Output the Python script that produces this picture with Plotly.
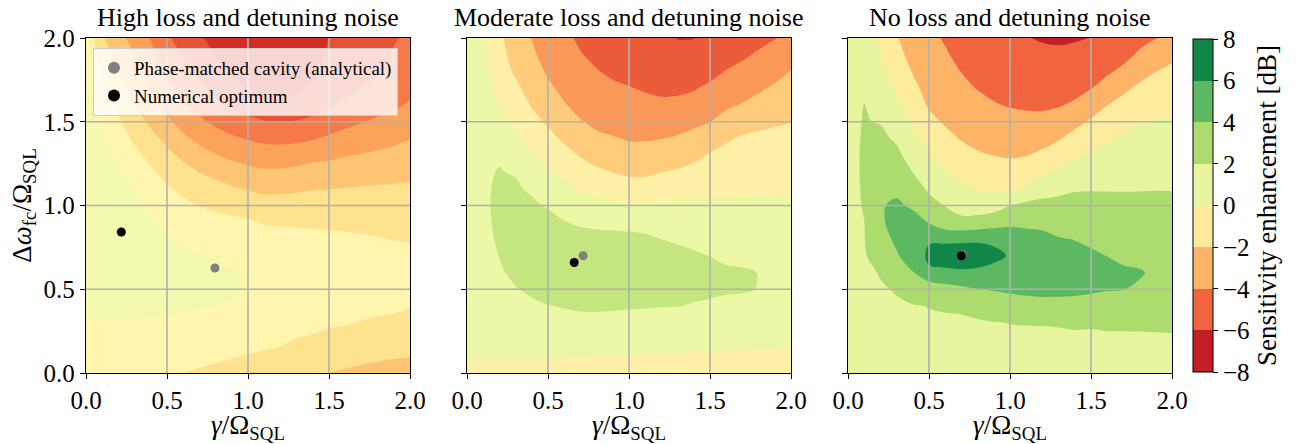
import plotly.graph_objects as go

# ---------------- data ----------------
GAMMA = [0.0, 0.1, 0.2, 0.3, 0.4, 0.5, 0.6, 0.7, 0.8, 0.9, 1.0,
         1.1, 1.2, 1.3, 1.4, 1.5, 1.6, 1.7, 1.8, 1.9, 2.0]
DETUNING = [0.0, 0.1, 0.2, 0.3, 0.4, 0.5, 0.6, 0.7, 0.8, 0.9, 1.0,
            1.1, 1.2, 1.3, 1.4, 1.5, 1.6, 1.7, 1.8, 1.9, 2.0]

# sensitivity enhancement [dB]; one list per gamma value (column), bottom -> top in detuning
HIGH_LOSS_COLS = [
    [-0.55, -0.4, -0.25, -0.05, 0.12, 0.25, 0.35, 0.42, 0.46, 0.48, 0.48, 0.46, 0.43, 0.39, 0.34, 0.28, 0.21, 0.14, 0.06, -0.02, -0.15],
    [-0.55, -0.4, -0.25, -0.05, 0.15, 0.3, 0.42, 0.5, 0.53, 0.53, 0.5, 0.44, 0.35, 0.24, 0.1, -0.05, -0.35, -0.8, -1.2, -1.55, -1.85],
    [-0.55, -0.4, -0.25, -0.05, 0.18, 0.35, 0.48, 0.56, 0.58, 0.55, 0.47, 0.34, 0.15, -0.1, -0.45, -0.9, -1.25, -1.6, -2.0, -2.35, -2.7],
    [-0.55, -0.4, -0.25, -0.06, 0.18, 0.36, 0.48, 0.55, 0.55, 0.45, 0.25, 0.02, -0.3, -0.7, -1.2, -1.55, -2.0, -2.35, -2.65, -3.0, -3.35],
    [-0.6, -0.42, -0.26, -0.08, 0.17, 0.34, 0.44, 0.46, 0.38, 0.15, -0.25, -0.55, -0.85, -1.3, -1.7, -2.2, -2.7, -3.1, -3.45, -3.75, -4.05],
    [-0.7, -0.5, -0.3, -0.08, 0.14, 0.3, 0.36, 0.33, 0.12, -0.2, -0.55, -0.9, -1.3, -1.75, -2.25, -2.8, -3.3, -3.75, -4.15, -4.5, -4.85],
    [-1.02, -0.72, -0.45, -0.15, 0.1, 0.24, 0.27, 0.17, -0.1, -0.45, -0.8, -1.2, -1.65, -2.2, -2.8, -3.4, -3.9, -4.35, -4.75, -5.08, -5.4],
    [-1.1, -0.8, -0.5, -0.22, 0.04, 0.18, 0.2, 0.03, -0.3, -0.65, -1.02, -1.5, -2.02, -2.6, -3.25, -3.8, -4.3, -4.8, -5.2, -5.55, -5.85],
    [-1.2, -0.85, -0.55, -0.27, 0.01, 0.12, 0.13, -0.05, -0.4, -0.75, -1.15, -1.7, -2.25, -2.95, -3.55, -4.2, -4.75, -5.25, -5.65, -6.02, -6.35],
    [-1.3, -0.95, -0.62, -0.32, -0.07, 0.07, 0.04, -0.2, -0.5, -0.8, -1.3, -1.9, -2.55, -3.2, -3.85, -4.5, -5.2, -5.7, -6.1, -6.4, -6.7],
    [-1.35, -1.05, -0.7, -0.4, -0.15, -0.02, -0.06, -0.3, -0.6, -0.88, -1.5, -2.05, -2.75, -3.4, -4.05, -4.75, -5.45, -6.02, -6.35, -6.6, -6.85],
    [-1.4, -1.12, -0.8, -0.5, -0.28, -0.17, -0.2, -0.4, -0.7, -1.05, -1.6, -2.2, -2.85, -3.55, -4.2, -4.95, -5.7, -6.25, -6.55, -6.8, -6.95],
    [-1.45, -1.18, -0.88, -0.6, -0.38, -0.27, -0.28, -0.45, -0.75, -1.08, -1.55, -2.2, -2.85, -3.55, -4.25, -5.02, -5.75, -6.3, -6.6, -6.8, -6.95],
    [-1.5, -1.25, -1.02, -0.72, -0.5, -0.38, -0.37, -0.5, -0.78, -1.1, -1.5, -2.15, -2.75, -3.45, -4.2, -4.95, -5.65, -6.2, -6.5, -6.7, -6.85],
    [-1.55, -1.32, -1.08, -0.82, -0.6, -0.47, -0.45, -0.55, -0.8, -1.12, -1.5, -2.05, -2.6, -3.3, -4.07, -4.8, -5.35, -5.8, -6.15, -6.35, -6.5],
    [-2.02, -1.65, -1.25, -0.88, -0.66, -0.55, -0.52, -0.6, -0.83, -1.15, -1.52, -2.02, -2.55, -3.2, -3.85, -4.5, -5.15, -5.55, -5.75, -5.88, -5.97],
    [-2.1, -1.72, -1.32, -0.94, -0.72, -0.61, -0.58, -0.65, -0.85, -1.2, -1.55, -1.97, -2.45, -3.05, -3.65, -4.25, -4.85, -5.25, -5.45, -5.6, -5.7],
    [-2.2, -1.8, -1.4, -1.03, -0.78, -0.66, -0.62, -0.7, -0.9, -1.22, -1.55, -1.93, -2.4, -2.95, -3.5, -4.05, -4.55, -5.02, -5.22, -5.35, -5.45],
    [-2.3, -1.85, -1.45, -1.1, -0.83, -0.7, -0.66, -0.74, -0.95, -1.25, -1.55, -1.9, -2.35, -2.85, -3.35, -3.85, -4.35, -4.8, -5.07, -5.18, -5.25],
    [-2.4, -1.92, -1.5, -1.15, -0.88, -0.74, -0.7, -0.77, -1.02, -1.28, -1.55, -1.88, -2.28, -2.75, -3.2, -3.7, -4.15, -4.55, -4.8, -4.95, -5.05],
    [-2.5, -1.98, -1.55, -1.2, -0.97, -0.8, -0.75, -0.83, -1.05, -1.3, -1.55, -1.85, -2.2, -2.6, -3.02, -3.5, -3.9, -4.25, -4.55, -4.75, -4.9],
]

MODERATE_LOSS_COLS = [
    [-0.35, 0.18, 0.4, 0.6, 0.75, 0.88, 0.98, 1.05, 1.1, 1.13, 1.15, 1.15, 1.12, 1.05, 0.98, 0.9, 0.8, 0.7, 0.58, 0.45, 0.3],
    [-0.35, 0.15, 0.45, 0.68, 0.85, 1.0, 1.12, 1.22, 1.3, 1.35, 1.38, 1.38, 1.35, 1.28, 1.15, 1.0, 0.8, 0.6, 0.4, 0.18, -0.05],
    [-0.35, 0.12, 0.5, 0.78, 1.0, 1.2, 1.38, 1.52, 1.6, 1.64, 1.65, 1.62, 1.55, 1.4, 1.0, 0.5, -0.02, -0.45, -0.8, -1.0, -1.15],
    [-0.35, 0.09, 0.6, 0.95, 1.25, 1.45, 1.7, 1.85, 1.92, 1.93, 1.85, 1.68, 1.4, 0.85, 0.25, -0.35, -0.8, -1.2, -1.7, -2.1, -2.5],
    [-0.35, 0.07, 0.7, 1.05, 1.35, 1.65, 2.0, 2.15, 2.15, 2.0, 1.75, 1.3, 0.75, 0.12, -0.5, -1.05, -1.6, -2.1, -2.5, -2.8, -3.02],
    [-0.35, 0.05, 0.75, 1.15, 1.47, 1.85, 2.2, 2.35, 2.3, 2.0, 1.35, 0.75, 0.1, -0.5, -1.05, -1.7, -2.3, -2.75, -3.15, -3.45, -3.7],
    [-0.35, 0.035, 0.8, 1.2, 1.55, 2.0, 2.35, 2.4, 2.2, 1.55, 1.0, 0.35, -0.3, -1.0, -1.75, -2.4, -2.9, -3.35, -3.75, -4.05, -4.3],
    [-0.35, 0.02, 0.82, 1.25, 1.62, 2.05, 2.3, 2.3, 2.0, 1.3, 0.65, -0.1, -0.8, -1.6, -2.3, -2.9, -3.45, -3.85, -4.2, -4.45, -4.65],
    [-0.35, -0.01, 0.8, 1.25, 1.64, 2.05, 2.25, 2.2, 1.9, 1.2, 0.45, -0.4, -1.25, -2.05, -2.7, -3.3, -3.8, -4.2, -4.45, -4.7, -4.9],
    [-0.35, -0.03, 0.75, 1.22, 1.62, 2.0, 2.15, 2.1, 1.85, 1.15, 0.35, -0.6, -1.52, -2.3, -2.9, -3.45, -3.95, -4.35, -4.65, -4.9, -5.1],
    [-0.35, -0.06, 0.7, 1.2, 1.58, 1.95, 2.1, 2.05, 1.8, 1.1, 0.15, -0.85, -1.75, -2.5, -3.1, -3.65, -4.1, -4.45, -4.8, -5.05, -5.3],
    [-0.35, -0.09, 0.65, 1.15, 1.56, 1.9, 2.02, 1.95, 1.7, 1.05, 0.15, -0.85, -1.75, -2.5, -3.1, -3.7, -4.2, -4.6, -4.95, -5.2, -5.45],
    [-0.35, -0.11, 0.6, 1.1, 1.53, 1.82, 1.93, 1.82, 1.49, 0.95, 0.2, -0.7, -1.52, -2.25, -3.02, -3.65, -4.25, -4.75, -5.15, -5.45, -5.7],
    [-0.35, -0.14, 0.55, 1.05, 1.52, 1.78, 1.85, 1.72, 1.4, 0.9, 0.25, -0.55, -1.35, -2.1, -2.85, -3.55, -4.2, -4.75, -5.25, -5.7, -6.03],
    [-0.35, -0.17, 0.5, 1.0, 1.45, 1.68, 1.72, 1.6, 1.3, 0.85, 0.3, -0.4, -1.1, -1.8, -2.55, -3.3, -4.0, -4.6, -5.15, -5.65, -6.02],
    [-0.35, -0.18, 0.45, 0.95, 1.4, 1.62, 1.64, 1.49, 1.2, 0.8, 0.3, -0.3, -0.9, -1.4, -2.05, -3.02, -3.7, -4.25, -4.9, -5.4, -5.8],
    [-0.35, -0.2, 0.4, 0.9, 1.35, 1.58, 1.58, 1.4, 1.1, 0.75, 0.28, -0.25, -0.7, -1.15, -1.65, -2.4, -3.25, -3.95, -4.45, -5.0, -5.45],
    [-0.35, -0.22, 0.38, 0.85, 1.3, 1.56, 1.56, 1.36, 1.05, 0.7, 0.26, -0.2, -0.6, -0.95, -1.35, -2.0, -2.9, -3.55, -4.15, -4.7, -5.1],
    [-0.35, -0.25, 0.35, 0.8, 1.22, 1.48, 1.49, 1.3, 1.0, 0.66, 0.25, -0.2, -0.55, -0.9, -1.25, -1.8, -2.55, -3.2, -3.8, -4.35, -4.85],
    [-0.35, -0.28, 0.33, 0.75, 1.15, 1.35, 1.38, 1.25, 0.97, 0.63, 0.25, -0.18, -0.52, -0.85, -1.2, -1.65, -2.2, -2.8, -3.45, -4.0, -4.55],
    [-0.35, -0.3, 0.3, 0.7, 1.08, 1.28, 1.32, 1.2, 0.95, 0.62, 0.25, -0.15, -0.5, -0.85, -1.18, -1.52, -1.95, -2.5, -2.95, -3.6, -4.25],
]

NO_LOSS_COLS = [
    [1.0, 1.1, 1.2, 1.3, 1.4, 1.5, 1.6, 1.65, 1.7, 1.75, 1.75, 1.75, 1.75, 1.75, 1.72, 1.65, 1.5, 1.3, 1.1, 0.85, 0.6],
    [1.1, 1.2, 1.3, 1.45, 1.6, 1.72, 1.82, 1.9, 1.95, 1.99, 2.05, 2.08, 2.1, 2.1, 2.09, 2.06, 2.01, 1.85, 1.55, 1.2, 0.8],
    [1.2, 1.35, 1.5, 1.65, 1.8, 1.93, 2.05, 2.5, 3.2, 3.75, 3.85, 3.55, 3.1, 2.7, 2.3, 1.93, 1.5, 1.05, 0.55, -0.02, -0.45],
    [1.3, 1.45, 1.6, 1.75, 1.92, 2.05, 2.8, 3.8, 4.4, 4.6, 4.3, 3.6, 2.9, 2.35, 1.8, 1.2, 0.45, -0.3, -0.9, -1.4, -1.85],
    [1.35, 1.5, 1.65, 1.8, 1.93, 2.6, 3.9, 5.0, 5.2, 4.8, 3.7, 2.8, 1.98, 1.3, 0.5, -0.3, -0.95, -1.5, -2.1, -2.65, -3.2],
    [1.4, 1.55, 1.7, 1.85, 2.03, 2.5, 5.75, 6.3, 5.85, 3.9, 2.6, 1.75, 0.9, 0.15, -0.6, -1.5, -2.2, -2.7, -3.1, -3.45, -3.75],
    [1.45, 1.6, 1.75, 1.88, 2.08, 3.2, 5.8, 6.5, 5.8, 2.6, 1.95, 1.0, 0.1, -0.75, -1.5, -2.2, -2.8, -3.3, -3.65, -3.9, -4.1],
    [1.5, 1.63, 1.77, 1.9, 2.1, 3.6, 5.85, 6.6, 5.8, 2.3, 1.55, 0.4, -0.55, -1.35, -2.1, -2.8, -3.3, -3.7, -4.02, -4.25, -4.45],
    [1.5, 1.63, 1.76, 1.9, 2.35, 3.95, 5.8, 6.5, 5.85, 2.6, 1.2, -0.02, -1.0, -1.8, -2.5, -3.1, -3.6, -4.05, -4.4, -4.7, -4.95],
    [1.5, 1.63, 1.76, 1.95, 2.8, 4.15, 5.6, 6.3, 5.75, 3.0, 1.3, -0.25, -1.3, -2.02, -2.75, -3.4, -3.9, -4.35, -4.7, -5.02, -5.25],
    [1.5, 1.65, 1.8, 2.02, 3.0, 4.35, 5.5, 5.9, 5.3, 3.5, 1.95, -0.3, -1.3, -2.15, -2.85, -3.5, -4.1, -4.55, -4.9, -5.2, -5.45],
    [1.5, 1.65, 1.78, 2.05, 3.2, 4.5, 5.3, 5.5, 5.0, 3.4, 2.5, 0.3, -1.0, -2.05, -2.8, -3.6, -4.2, -4.7, -5.1, -5.45, -5.95],
    [1.5, 1.65, 1.8, 2.05, 3.35, 4.55, 5.15, 5.25, 4.5, 3.5, 2.6, 1.1, -0.4, -1.65, -2.6, -3.45, -4.3, -4.9, -5.35, -5.75, -6.1],
    [1.5, 1.65, 1.8, 2.08, 3.4, 4.5, 4.95, 4.9, 4.1, 3.3, 2.5, 1.6, 0.3, -1.0, -2.15, -3.02, -4.15, -4.85, -5.4, -5.8, -6.15],
    [1.5, 1.65, 1.8, 2.15, 3.4, 4.4, 4.8, 4.55, 3.95, 3.3, 2.6, 1.85, 0.85, -0.3, -1.3, -2.6, -3.7, -4.6, -5.2, -5.7, -6.1],
    [1.5, 1.65, 1.8, 2.12, 3.3, 4.25, 4.6, 4.25, 3.7, 3.2, 2.6, 1.9, 1.05, 0.2, -0.7, -1.75, -2.9, -4.05, -4.85, -5.4, -5.98],
    [1.5, 1.65, 1.8, 2.2, 3.2, 4.1, 4.3, 3.98, 3.5, 3.02, 2.5, 1.9, 1.25, 0.55, -0.2, -1.05, -2.02, -3.1, -4.3, -5.0, -5.5],
    [1.5, 1.65, 1.8, 2.2, 3.1, 4.02, 4.15, 3.8, 3.35, 2.9, 2.45, 1.9, 1.35, 0.8, 0.25, -0.45, -1.4, -2.35, -3.55, -4.6, -5.2],
    [1.5, 1.65, 1.82, 2.2, 3.0, 3.85, 4.1, 3.65, 3.2, 2.8, 2.4, 1.92, 1.45, 0.95, 0.45, -0.1, -0.8, -1.65, -2.65, -3.7, -4.6],
    [1.5, 1.65, 1.85, 2.2, 2.9, 3.6, 3.8, 3.5, 3.1, 2.72, 2.35, 1.95, 1.5, 1.05, 0.6, 0.1, -0.5, -1.25, -2.02, -3.02, -4.05],
    [1.5, 1.65, 1.88, 2.2, 2.8, 3.4, 3.55, 3.35, 3.0, 2.65, 2.3, 1.95, 1.55, 1.15, 0.7, 0.25, -0.3, -0.9, -1.6, -2.4, -3.5],
]

PANEL_TITLES = ["High loss and detuning noise",
                "Moderate loss and detuning noise",
                "No loss and detuning noise"]

# contour levels used in each panel (dB)
LEVEL_START = [-6.0, -6.0, -6.0]
LEVEL_END = [0.0, 1.5, 6.0]
LEVEL_STEP = [1.0, 1.5, 2.0]

# optimum markers (gamma, detuning) per panel
ANALYTICAL_GAMMA = [0.796, 0.717, 0.706]
ANALYTICAL_DET = [0.627, 0.700, 0.706]
NUMERICAL_GAMMA = [0.218, 0.662, 0.700]
NUMERICAL_DET = [0.842, 0.660, 0.700]

AXIS_TICKS = [0.0, 0.5, 1.0, 1.5, 2.0]
CBAR_TICKS = [-8, -6, -4, -2, 0, 2, 4, 6, 8]
CBAR_MIN, CBAR_MAX = -8.0, 8.0

# ---------------- colour map (ColorBrewer RdYlGn, as matplotlib) ----------------
RDYLGN = [(165, 0, 38), (215, 48, 39), (244, 109, 67), (253, 174, 97), (254, 224, 139),
          (255, 255, 191), (217, 239, 139), (166, 217, 106), (102, 189, 99), (26, 152, 80),
          (0, 104, 55)]


def cmap(t):
    t = min(max(t, 0.0), 1.0)
    pos = t * (len(RDYLGN) - 1)
    i = min(int(pos), len(RDYLGN) - 2)
    f = pos - i
    a, b = RDYLGN[i], RDYLGN[i + 1]
    return "rgb(%d,%d,%d)" % tuple(round(a[k] + (b[k] - a[k]) * f) for k in range(3))


def norm(v):
    return (v - CBAR_MIN) / (CBAR_MAX - CBAR_MIN)


def contour_scale(start, end, step):
    nc = int(round((end - start) / step)) + 1
    scale = []
    for k in range(nc + 1):
        centre = start - step / 2 + k * step
        scale.append([k / nc, cmap(norm(centre))])
    return scale


# ---------------- figure ----------------
W, H = 1305, 444
FONT = "Liberation Serif"
X_DOMAINS = [[86 / W, 410 / W], [467 / W, 791 / W], [848 / W, 1172 / W]]
Y_DOMAIN = [(H - 373) / H, (H - 38) / H]

fig = go.Figure()
panels = [HIGH_LOSS_COLS, MODERATE_LOSS_COLS, NO_LOSS_COLS]

for p, cols in enumerate(panels):
    z = [[cols[ix][iy] for ix in range(len(GAMMA))] for iy in range(len(DETUNING))]
    sfx = "" if p == 0 else str(p + 1)
    fig.add_trace(go.Contour(
        x=GAMMA, y=DETUNING, z=z,
        autocontour=False,
        contours=dict(start=LEVEL_START[p], end=LEVEL_END[p], size=LEVEL_STEP[p],
                      coloring="fill", showlines=False),
        colorscale=contour_scale(LEVEL_START[p], LEVEL_END[p], LEVEL_STEP[p]),
        showscale=False, line=dict(width=0, smoothing=1.0),
        hoverinfo="skip", xaxis="x" + sfx, yaxis="y" + sfx,
    ))
    fig.add_trace(go.Scatter(
        x=[ANALYTICAL_GAMMA[p]], y=[ANALYTICAL_DET[p]], mode="markers",
        marker=dict(color="#808080", size=9),
        name="Phase-matched cavity (analytical)", showlegend=(p == 0),
        xaxis="x" + sfx, yaxis="y" + sfx,
    ))
    fig.add_trace(go.Scatter(
        x=[NUMERICAL_GAMMA[p]], y=[NUMERICAL_DET[p]], mode="markers",
        marker=dict(color="black", size=9),
        name="Numerical optimum", showlegend=(p == 0),
        xaxis="x" + sfx, yaxis="y" + sfx,
    ))

# colour bar (shared scale of the figure)
n_bands = len(CBAR_TICKS) - 1
cbar_scale = []
for k in range(n_bands):
    c = cmap(norm((CBAR_TICKS[k] + CBAR_TICKS[k + 1]) / 2))
    cbar_scale.append([k / n_bands, c])
    cbar_scale.append([(k + 1) / n_bands, c])

fig.add_trace(go.Scatter(
    x=[None], y=[None], mode="markers", showlegend=False, hoverinfo="skip",
    xaxis="x3", yaxis="y3",
    marker=dict(color=[0], cmin=CBAR_MIN, cmax=CBAR_MAX, colorscale=cbar_scale,
                showscale=True,
                colorbar=dict(
                    x=1193 / W, xanchor="left", xpad=0,
                    y=(H - 205.5) / H, yanchor="middle", ypad=0,
                    len=333 / H, lenmode="fraction",
                    thickness=20, thicknessmode="pixels",
                    outlinewidth=1, outlinecolor="black",
                    tickvals=CBAR_TICKS, ticks="outside", ticklen=5, tickwidth=1.2,
                    tickcolor="black",
                    tickfont=dict(family=FONT, size=25, color="black"),
                    title=dict(text="Sensitivity enhancement [dB]", side="right",
                               font=dict(family=FONT, size=27, color="black")),
                )),
))

axis_common = dict(
    range=[0, 2], tickvals=AXIS_TICKS, tickformat=".1f",
    showgrid=False, zeroline=False,
    showline=True, linecolor="black", linewidth=1.4, mirror=True,
    ticks="outside", ticklen=5, tickwidth=1.3, tickcolor="black",
    tickfont=dict(family=FONT, size=25, color="black"),
    automargin=False,
)

layout = dict(
    width=W, height=H, margin=dict(l=0, r=0, t=0, b=0, autoexpand=False),
    paper_bgcolor="white", plot_bgcolor="white",
    showlegend=True,
    legend=dict(x=93 / W, y=(H - 48) / H, xanchor="left", yanchor="top",
                bgcolor="rgba(255,255,255,0.8)", bordercolor="#cccccc", borderwidth=1,
                font=dict(family=FONT, size=19, color="black"), itemsizing="constant",
                tracegroupgap=0),
    font=dict(family=FONT, color="black"),
)

xtitle = "<i>γ</i>/Ω<sub>SQL</sub>"
ytitle = "Δ<i>ω</i><sub>fc</sub>/Ω<sub>SQL</sub>"
annotations = []
shapes = []
for p in range(3):
    sfx = "" if p == 0 else str(p + 1)
    layout["xaxis" + sfx] = dict(axis_common, domain=X_DOMAINS[p], anchor="y" + sfx,
                                 title=dict(text=xtitle, standoff=0,
                                            font=dict(family=FONT, size=27, color="black")))
    ya = dict(axis_common, domain=Y_DOMAIN, anchor="x" + sfx)
    if p == 0:
        ya["title"] = dict(text=ytitle, standoff=4,
                           font=dict(family=FONT, size=27, color="black"))
    else:
        ya["showticklabels"] = False
    layout["yaxis" + sfx] = ya
    annotations.append(dict(
        text=PANEL_TITLES[p], xref="paper", yref="paper",
        x=(X_DOMAINS[p][0] + X_DOMAINS[p][1]) / 2, y=(H - 17) / H,
        xanchor="center", yanchor="middle", showarrow=False,
        font=dict(family=FONT, size=26, color="black"),
    ))
    for v in AXIS_TICKS[1:-1]:
        shapes.append(dict(type="line", xref="x" + sfx, yref="y" + sfx + " domain",
                           x0=v, x1=v, y0=0, y1=1, layer="above",
                           line=dict(color="#b0b0b0", width=1.6)))
        shapes.append(dict(type="line", xref="x" + sfx + " domain", yref="y" + sfx,
                           x0=0, x1=1, y0=v, y1=v, layer="above",
                           line=dict(color="#b0b0b0", width=1.6)))

layout["annotations"] = annotations
layout["shapes"] = shapes
fig.update_layout(**layout)

fig.write_html("out.html", config={"displayModeBar": False})
